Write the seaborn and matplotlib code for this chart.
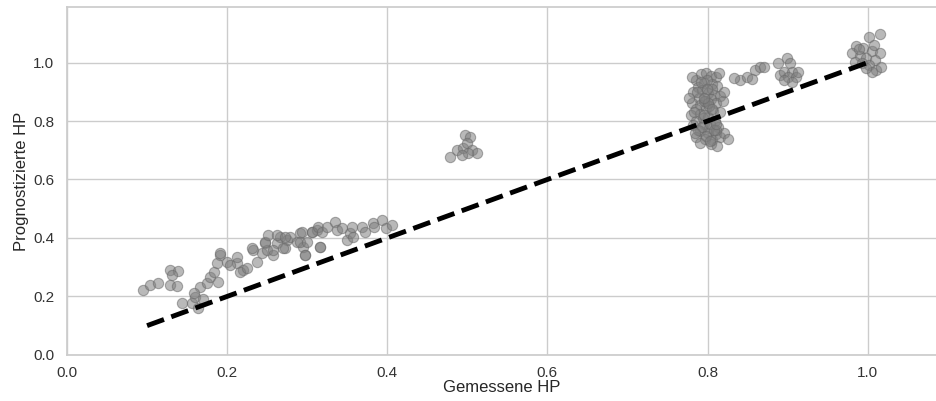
import numpy as np
import pandas as pd
import seaborn as sns
import matplotlib.pyplot as plt

gemessen = [
    # low range 0.1 - 0.22
    0.095, 0.104, 0.114, 0.129, 0.139, 0.131, 0.129, 0.137, 0.144, 0.156,
    0.160, 0.163, 0.166, 0.175, 0.179, 0.183, 0.189, 0.187, 0.191, 0.200,
    0.212, 0.212, 0.220, 0.191, 0.203, 0.216, 0.225, 0.232, 0.237, 0.243,
    # 0.22 - 0.41
    0.247, 0.250, 0.257, 0.262, 0.266, 0.275, 0.272, 0.278, 0.287, 0.291,
    0.297, 0.295, 0.306, 0.316, 0.312, 0.231, 0.247, 0.251, 0.262, 0.272,
    0.257, 0.270, 0.291, 0.293, 0.300, 0.297, 0.306, 0.313, 0.318, 0.316,
    0.325, 0.335, 0.337, 0.343, 0.350, 0.353, 0.357, 0.356, 0.368, 0.372,
    0.382, 0.384, 0.394, 0.399, 0.406, 0.170, 0.158,
    # cluster near 0.5
    0.478, 0.487, 0.494, 0.497, 0.503, 0.499, 0.506, 0.512, 0.501, 0.493,
    # cluster near 0.8
    0.786, 0.792, 0.798, 0.804, 0.810, 0.796, 0.806, 0.788, 0.812, 0.782,
    0.793, 0.800, 0.808, 0.816, 0.789, 0.797, 0.804, 0.781, 0.791, 0.811,
    0.819, 0.785, 0.798, 0.807, 0.779, 0.790, 0.815, 0.800, 0.786, 0.795,
    0.809, 0.782, 0.802, 0.813, 0.790, 0.800, 0.810, 0.786, 0.797, 0.806,
    0.816, 0.791, 0.804, 0.812, 0.821, 0.825, 0.777, 0.780, 0.814, 0.820,
    0.794, 0.802, 0.788, 0.806, 0.799, 0.783, 0.811, 0.796, 0.793, 0.803,
    0.798, 0.808, 0.787, 0.801, 0.795, 0.805, 0.792, 0.799, 0.810, 0.784,
    0.803, 0.796,
    # 0.84 - 0.92
    0.840, 0.849, 0.859, 0.865, 0.871, 0.888, 0.899, 0.903, 0.890, 0.896,
    0.906, 0.900, 0.911, 0.905, 0.896, 0.913, 0.833, 0.855,
    # cluster near 1.0
    1.015, 1.002, 0.986, 0.981, 0.994, 1.005, 1.015, 0.990, 0.998, 1.009,
    0.984, 0.993, 1.002, 1.011, 1.006, 0.998, 1.017, 0.989, 1.008,
]
prognostiziert = [
    0.223, 0.240, 0.246, 0.291, 0.288, 0.274, 0.240, 0.236, 0.178, 0.178,
    0.199, 0.160, 0.233, 0.246, 0.267, 0.284, 0.250, 0.315, 0.342, 0.318,
    0.315, 0.336, 0.291, 0.349, 0.308, 0.284, 0.298, 0.360, 0.318, 0.349,
    0.384, 0.360, 0.342, 0.384, 0.404, 0.394, 0.366, 0.404, 0.387, 0.418,
    0.342, 0.370, 0.421, 0.370, 0.428, 0.366, 0.387, 0.411, 0.411, 0.404,
    0.360, 0.366, 0.387, 0.421, 0.387, 0.342, 0.421, 0.438, 0.421, 0.370,
    0.438, 0.455, 0.428, 0.435, 0.394, 0.418, 0.404, 0.438, 0.438, 0.421,
    0.452, 0.438, 0.462, 0.435, 0.445, 0.190, 0.210,
    0.678, 0.702, 0.709, 0.753, 0.747, 0.726, 0.702, 0.692, 0.692, 0.685,
    0.940, 0.960, 0.965, 0.955, 0.950, 0.930, 0.925, 0.915, 0.920, 0.900,
    0.905, 0.895, 0.890, 0.885, 0.880, 0.870, 0.875, 0.860, 0.855, 0.860,
    0.870, 0.840, 0.845, 0.835, 0.820, 0.825, 0.830, 0.815, 0.800, 0.790,
    0.800, 0.785, 0.775, 0.780, 0.765, 0.760, 0.755, 0.745, 0.740, 0.735,
    0.745, 0.725, 0.720, 0.715, 0.760, 0.740, 0.880, 0.950, 0.965, 0.900,
    0.810, 0.850, 0.770, 0.910, 0.940, 0.830, 0.770, 0.870, 0.780, 0.790,
    0.750, 0.770, 0.900, 0.860, 0.820, 0.840, 0.935, 0.910, 0.790, 0.760,
    0.730, 0.880,
    0.942, 0.952, 0.976, 0.986, 0.986, 1.000, 1.017, 1.000, 0.959, 0.969,
    0.966, 0.949, 0.952, 0.935, 0.942, 0.969, 0.948, 0.945,
    1.096, 1.086, 1.055, 1.034, 1.051, 1.038, 1.034, 1.021, 1.017, 1.010,
    1.003, 1.000, 0.993, 0.976, 0.969, 0.983, 0.986, 1.045, 1.060,
]

# ideal line y = x
ideal = [0.1, 1.0]

df = pd.DataFrame({'Gemessene HP': gemessen, 'Prognostizierte HP': prognostiziert})

sns.set_theme(style='whitegrid')
plt.rcParams['font.family'] = ['Liberation Sans', 'DejaVu Sans']

fig = plt.figure(figsize=(9.37, 4.01), dpi=100)
ax = fig.add_axes([0.0715, 0.115, 0.928, 0.8675])

sns.scatterplot(data=df, x='Gemessene HP', y='Prognostizierte HP', ax=ax,
                color='gray', alpha=0.55, s=55, edgecolor='dimgray', linewidth=0.8)
ax.plot(ideal, ideal, color='black', linestyle='--', linewidth=3.5)

ax.set_xlim(0, 1.086)
ax.set_ylim(0, 1.19)
ax.set_xticks([0.0, 0.2, 0.4, 0.6, 0.8, 1.0])
ax.set_yticks([0.0, 0.2, 0.4, 0.6, 0.8, 1.0])
ax.tick_params(labelsize=11, colors='#333333', pad=3)
ax.tick_params(axis='x', pad=2)
ax.set_xlabel('Gemessene HP', fontsize=12, labelpad=0)
ax.set_ylabel('Prognostizierte HP', fontsize=12, labelpad=3)

plt.savefig('out.png', dpi=100)
